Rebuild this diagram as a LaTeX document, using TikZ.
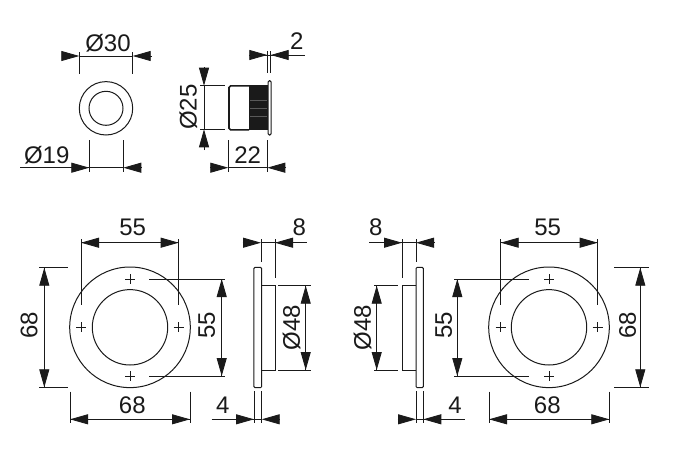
\documentclass[tikz,border=0pt]{standalone}
\usepackage{fontspec}
\setmainfont{Liberation Sans}
\usetikzlibrary{arrows.meta}
\definecolor{ink}{HTML}{1A1A1A}
\tikzset{
  thin line/.style={draw=ink,line width=0.85pt},
  part/.style={draw=ink,line width=1pt},
  tipline/.style={draw=ink,line width=0.85pt,-{Triangle[length=18pt,width=10pt]}},
  dimlabel/.style={inner sep=0pt,text=ink,font=\fontsize{24}{24}\selectfont},
  vlabel/.style={dimlabel,rotate=90},
}
% horizontal / vertical dimension tip: tail -> tip
\newcommand{\tipH}[3]{\draw[tipline] (#1,#3) -- (#2,#3);}
\newcommand{\tipV}[3]{\draw[tipline] (#3,#1) -- (#3,#2);}
% hole cross
\newcommand{\holeX}[2]{\draw[thin line] (#1-5,#2) -- (#1+5,#2) (#1,#2-5) -- (#1,#2+5);}
% front view of a rose
\newcommand{\rose}[2]{%
  \draw[part] (#1,#2) circle[radius=60.3pt];
  \draw[part] (#1,#2) circle[radius=37.7pt];
}
\begin{document}
\begin{tikzpicture}[x=1pt,y=-1pt]
\useasboundingbox[fill=white] (0,0) rectangle (676,455);

%% ---- small round part, front view
\draw[part] (106,108.3) circle[radius=26.7pt];
\draw[part] (106,108.3) circle[radius=17pt];
\draw[thin line] (79.3,52) -- (79.3,74) (132.7,52) -- (132.7,74) (79.3,56) -- (132.7,56);
\tipH{61.7}{79.3}{56}\tipH{151.7}{132.7}{56}
\node[dimlabel] (d30) at (108,43) {Ø30};
\draw[thin line] (89.3,140) -- (89.3,172) (123.3,140) -- (123.3,172) (20,167.7) -- (123.3,167.7);
\tipH{71}{89.3}{167.7}\tipH{141.7}{123.3}{167.7}
\node[dimlabel] (d19) at (46.7,155) {Ø19};

%% ---- small round part, side view
\draw[part,rounded corners=1.5pt,line width=1.6pt] (249,85.9) -- (229,85.9) -- (229,129.8) -- (249,129.8);
\fill[ink] (248.5,85.4) rectangle (268.5,130.4);
\draw[black!65,line width=0.3pt] (250,100) -- (267,100) (250,108) -- (267,108) (250,116) -- (267,116);
\draw[part,fill=white,rounded corners=1.2pt] (268.2,80.7) rectangle (271,135);
\draw[thin line] (267.3,51) -- (267.3,73) (270.7,51) -- (270.7,73) (249.3,55) -- (305,55);
\tipH{249.3}{267.3}{55}\tipH{289.3}{270.7}{55}
\node[dimlabel] (d2) at (296.7,40.7) {2};
\draw[thin line] (200,85.7) -- (225,85.7) (200,129.3) -- (225,129.3) (204,85.7) -- (204,129.3);
\tipV{67.3}{85.7}{204}\tipV{150}{129.3}{204}
\node[vlabel] (d25) at (188.3,107.3) {Ø25};
\draw[thin line] (228.3,140) -- (228.3,172) (267.3,140) -- (267.3,172) (228.3,167.7) -- (267.3,167.7);
\tipH{210}{228.3}{167.7}\tipH{286}{267.3}{167.7}
\node[dimlabel] (d22) at (247.7,155) {22};

%% ---- left rose, front view
\rose{130}{327.3}
\holeX{130}{279}\holeX{130}{376}\holeX{81}{327.3}\holeX{178.7}{327.3}
\draw[thin line] (81,239) -- (81,305) (178.7,239) -- (178.7,305) (81,242.7) -- (178.7,242.7);
\tipH{100}{81}{242.7}\tipH{160}{178.7}{242.7}
\node[dimlabel] (l55t) at (132.7,227.3) {55};
\draw[thin line] (39.3,267.7) -- (68.3,267.7) (39.3,387.3) -- (68.3,387.3) (44.3,267.7) -- (44.3,387.3);
\tipV{286}{267.7}{44.3}\tipV{368}{387.3}{44.3}
\node[vlabel] (l68l) at (29,325) {68};
\draw[thin line] (149.3,279) -- (225,279) (149.3,376) -- (225,376) (221.7,279) -- (221.7,376);
\tipV{297}{279}{221.7}\tipV{357.7}{376}{221.7}
\node[vlabel] (l55r) at (206.7,325) {55};
\draw[thin line] (70,391.7) -- (70,422.7) (190,391.7) -- (190,422.7) (70,419.3) -- (190,419.3);
\tipH{88.3}{70}{419.3}\tipH{171.7}{190}{419.3}
\node[dimlabel] (l68b) at (132.3,405) {68};

%% ---- left rose, side view
\draw[part,rounded corners=1.2pt] (253.9,267.3) rectangle (261.7,387.7);
\draw[part] (261.7,285.7) -- (275,285.7) -- (275,370) -- (261.7,370);
\draw[thin line] (261,239) -- (261,261.7) (275,239) -- (275,278.3) (261,242.7) -- (306.7,242.7);
\tipH{242.7}{261}{242.7}\tipH{293.3}{275}{242.7}
\node[dimlabel] (l8) at (299.3,227.3) {8};
\draw[thin line] (278.3,285.7) -- (311,285.7) (278.3,370) -- (311,370) (305.7,285.7) -- (305.7,370);
\tipV{304}{285.7}{305.7}\tipV{351.7}{370}{305.7}
\node[vlabel] (l48) at (291.7,327.7) {Ø48};
\draw[thin line] (254,391) -- (254,422.7) (261.7,391) -- (261.7,422.7) (211.7,419.3) -- (261.7,419.3);
\tipH{236}{254}{419.3}\tipH{279.3}{261.7}{419.3}
\node[dimlabel] (l4) at (222.7,405) {4};

%% ---- right rose, side view
\draw[part,rounded corners=1.2pt] (416,267.3) rectangle (423.3,387.7);
\draw[part] (416,285.7) -- (402,285.7) -- (402,370) -- (416,370);
\draw[thin line] (402,239) -- (402,278.3) (416,239) -- (416,261.7) (369,242.7) -- (416,242.7);
\tipH{384}{402}{242.7}\tipH{434.3}{416}{242.7}
\node[dimlabel] (r8) at (375.7,227.3) {8};
\draw[thin line] (374.3,285.7) -- (398,285.7) (374.3,370) -- (398,370) (376.7,285.7) -- (376.7,370);
\tipV{304}{285.7}{376.7}\tipV{351.7}{370}{376.7}
\node[vlabel] (r48) at (362.7,327.7) {Ø48};
\draw[thin line] (416,391) -- (416,422.7) (423.3,391) -- (423.3,422.7) (416,419.3) -- (465,419.3);
\tipH{397.7}{416}{419.3}\tipH{441.7}{423.3}{419.3}
\node[dimlabel] (r4) at (455,405) {4};

%% ---- right rose, front view
\rose{549}{327.3}
\holeX{549}{279}\holeX{549}{376}\holeX{500.7}{327.3}\holeX{597.7}{327.3}
\draw[thin line] (500.7,239) -- (500.7,305) (597.7,239) -- (597.7,305) (500.7,242.7) -- (597.7,242.7);
\tipH{519}{500.7}{242.7}\tipH{579.3}{597.7}{242.7}
\node[dimlabel] (r55t) at (547.7,227.3) {55};
\draw[thin line] (614,267.7) -- (649.3,267.7) (614,387.3) -- (649.3,387.3) (640.3,267.7) -- (640.3,387.3);
\tipV{286}{267.7}{640.3}\tipV{368}{387.3}{640.3}
\node[vlabel] (r68r) at (627.7,325) {68};
\draw[thin line] (454,279) -- (529.3,279) (454,376) -- (529.3,376) (457.3,279) -- (457.3,376);
\tipV{297}{279}{457.3}\tipV{357.7}{376}{457.3}
\node[vlabel] (r55l) at (443.7,325) {55};
\draw[thin line] (489,391.7) -- (489,422.7) (609.3,391.7) -- (609.3,422.7) (489,419.3) -- (609.3,419.3);
\tipH{507.3}{489}{419.3}\tipH{591}{609.3}{419.3}
\node[dimlabel] (r68b) at (547.3,405) {68};
\end{tikzpicture}
\end{document}
